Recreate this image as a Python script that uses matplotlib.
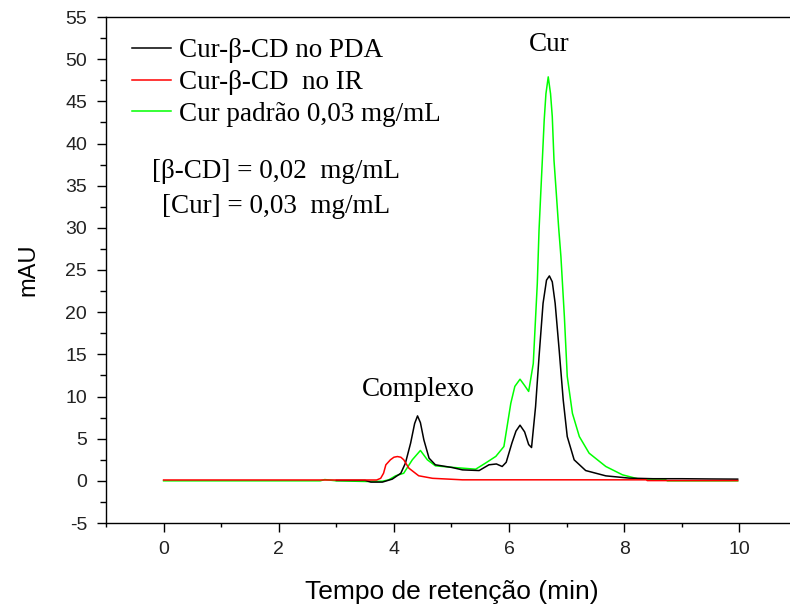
import matplotlib
matplotlib.use("Agg")
import matplotlib.pyplot as plt
from matplotlib.ticker import MultipleLocator

plt.rcParams["axes.unicode_minus"] = False

# chromatogram traces (time in min, signal in mAU)
pda_t = [3.0, 3.5, 3.6, 3.8, 3.97, 4.12, 4.2, 4.29, 4.36, 4.41, 4.46, 4.52, 4.61, 4.72,
         5.01, 5.19, 5.48, 5.65, 5.78, 5.88, 5.95, 6.05, 6.12, 6.19, 6.27, 6.34, 6.39,
         6.46, 6.52, 6.59, 6.65, 6.70, 6.75, 6.80, 6.87, 6.94, 7.01, 7.13, 7.33, 7.68,
         8.09, 8.5, 9.0, 9.5, 9.97]
pda_y = [0.05, 0.05, -0.15, -0.15, 0.2, 0.9, 2.1, 4.47, 6.8, 7.7, 6.9, 4.86, 2.69, 1.9,
         1.58, 1.3, 1.22, 1.9, 2.0, 1.7, 2.2, 4.5, 5.9, 6.6, 5.8, 4.3, 3.95,
         8.8, 14.7, 21.05, 23.8, 24.3, 23.6, 21.05, 15.5, 9.6, 5.25, 2.49, 1.22, 0.59,
         0.32, 0.25, 0.25, 0.22, 0.2]

ir_t = [0, 3.7, 3.77, 3.82, 3.86, 3.94, 4.0, 4.06, 4.12, 4.17, 4.26, 4.43, 4.67, 5.19,
        8.38, 8.4, 9.97]
ir_y = [0.1, 0.1, 0.3, 0.9, 1.9, 2.5, 2.8, 2.88, 2.8, 2.5, 1.5, 0.6, 0.3, 0.12,
        0.12, 0.03, 0.03]

std_t = [0, 2.72, 2.8, 3.0, 3.54, 3.8, 3.91, 4.03, 4.17, 4.32, 4.46, 4.58, 4.72, 5.01,
         5.42, 5.59, 5.77, 5.91, 6.03, 6.1, 6.19, 6.27, 6.34, 6.42, 6.49, 6.52, 6.55,
         6.58, 6.61, 6.64, 6.68, 6.72, 6.75, 6.78, 6.82, 6.86, 6.9, 6.96, 7.01, 7.10,
         7.22, 7.39, 7.68, 7.97, 8.26, 8.7, 8.75, 9.97]
std_y = [0.0, 0.0, 0.15, 0.0, -0.08, -0.05, 0.12, 0.6, 0.9, 2.5, 3.6, 2.5, 1.78, 1.6,
         1.38, 2.1, 2.9, 4.07, 9.2, 11.2, 12.05, 11.3, 10.6, 13.9, 23.4, 29.7, 34.1,
         38.4, 42.8, 45.9, 47.9, 45.9, 43.2, 38.0, 34.1, 30.1, 26.6, 19.5, 12.4, 8.0,
         5.25, 3.28, 1.7, 0.71, 0.2, 0.2, 0.0, 0.0]

labels = ["Cur-β-CD no PDA", "Cur-β-CD  no IR", "Cur padrão 0,03 mg/mL"]

serif = "Liberation Serif"
sans = "Liberation Sans"
fs = 19.5

fig = plt.figure(figsize=(7.9, 6.08), dpi=100)
ax = fig.add_axes([106 / 790, 1 - 523 / 608, 691 / 790, 506 / 608])

l3, = ax.plot(std_t, std_y, color="#00ff00", lw=1.1, zorder=2)
l1, = ax.plot(pda_t, pda_y, color="black", lw=1.1, zorder=3)
l2, = ax.plot(ir_t, ir_y, color="red", lw=1.1, zorder=4)

ax.set_xlim(-1, 11)
ax.set_ylim(-5, 55)
ax.xaxis.set_major_locator(MultipleLocator(2))
ax.xaxis.set_minor_locator(MultipleLocator(1))
ax.yaxis.set_major_locator(MultipleLocator(5))
ax.yaxis.set_minor_locator(MultipleLocator(2.5))
ax.tick_params(which="major", direction="out", length=6.5, width=1, labelsize=14,
               labelcolor="#222222")
ax.tick_params(axis="y", which="major", pad=7)
ax.tick_params(axis="x", which="major", pad=6.5)
ax.tick_params(axis="y", which="minor", direction="out", length=4, width=1)
ax.tick_params(axis="x", which="minor", direction="out", length=3, width=1)
for lab in ax.get_xticklabels() + ax.get_yticklabels():
    lab.set_fontfamily(sans)
for sp in ax.spines.values():
    sp.set_linewidth(1.0)

ax.set_xlabel("Tempo de retenção (min)", fontsize=19, family=sans, labelpad=16)
ax.set_ylabel("mAU", fontsize=17, family=sans, labelpad=19)

leg = ax.legend([l1, l2, l3], labels, loc="upper left", bbox_to_anchor=(0.037, 0.958),
                frameon=False, prop={"family": serif, "size": fs}, borderpad=0,
                borderaxespad=0, handlelength=1.45, handletextpad=0.3,
                labelspacing=0.25)

ax.text(0.0659, 0.694, "[β-CD] = 0,02  mg/mL", transform=ax.transAxes,
        fontsize=fs, family=serif, va="center")
ax.text(0.0804, 0.625, "[Cur] = 0,03  mg/mL", transform=ax.transAxes,
        fontsize=fs, family=serif, va="center")
ax.text(6.35, 51.7, "Cur", fontsize=fs, family=serif, va="center")
ax.text(3.44, 10.8, "Complexo", fontsize=fs, family=serif, va="center")

fig.savefig("out.png", dpi=100)
